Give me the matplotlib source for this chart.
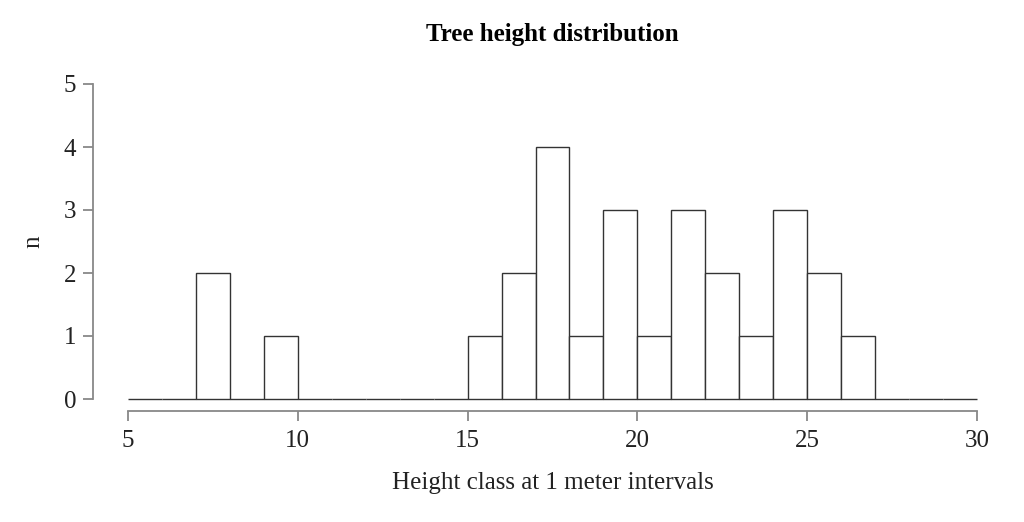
import numpy as np
import matplotlib
matplotlib.use('Agg')
import matplotlib.pyplot as plt

# counts per 1 m height class, from 5 m to 30 m
edges = list(range(5, 31))
counts = [0, 0, 2, 0, 1, 0, 0, 0, 0, 0,
          1, 2, 4, 1, 3, 1, 3, 2, 1, 3,
          2, 1, 0, 0, 0]
xticks = [5, 10, 15, 20, 25, 30]
yticks = [0, 1, 2, 3, 4, 5]

plt.rcParams['font.family'] = 'Liberation Serif'

fig = plt.figure(figsize=(10.24, 5.22), dpi=100)
ax = fig.add_axes([128/1024, 1 - 399/522, (977-128)/1024, (399-84)/522])

lefts = np.array(edges[:-1])
bars = ax.bar(lefts, counts, width=1, align='edge', color='white', edgecolor='#333333', linewidth=1)
for b in bars:
    b.set_clip_on(False)  # keep the zero-height bins visible as a baseline

ax.set_xlim(5, 30)
ax.set_ylim(0, 5)
ax.set_xticks(xticks)
ax.set_yticks(yticks)

# spine offsets are in points (dpi 100 -> 0.72 pt per px)
for s in ['top', 'right']:
    ax.spines[s].set_visible(False)
ax.spines['left'].set_position(('outward', 35 * 0.72))
ax.spines['bottom'].set_position(('outward', 12 * 0.72))
ax.spines['left'].set_bounds(0, 5)
ax.spines['bottom'].set_bounds(5, 30)
for s in ['left', 'bottom']:
    ax.spines[s].set_color('#888888')
    ax.spines[s].set_linewidth(1.3)
ax.tick_params(colors='#888888', labelcolor='#222222', labelsize=18, length=7, width=1.3, pad=5)
ax.tick_params(axis='x', pad=7)

ax.set_xlabel('Height class at 1 meter intervals', fontsize=18, color='#222222', labelpad=14)
ax.set_ylabel('n', fontsize=18, color='#222222', labelpad=14)
ax.set_title('Tree height distribution', fontsize=18, fontweight='bold', pad=31)

fig.savefig('out.png', dpi=100)
